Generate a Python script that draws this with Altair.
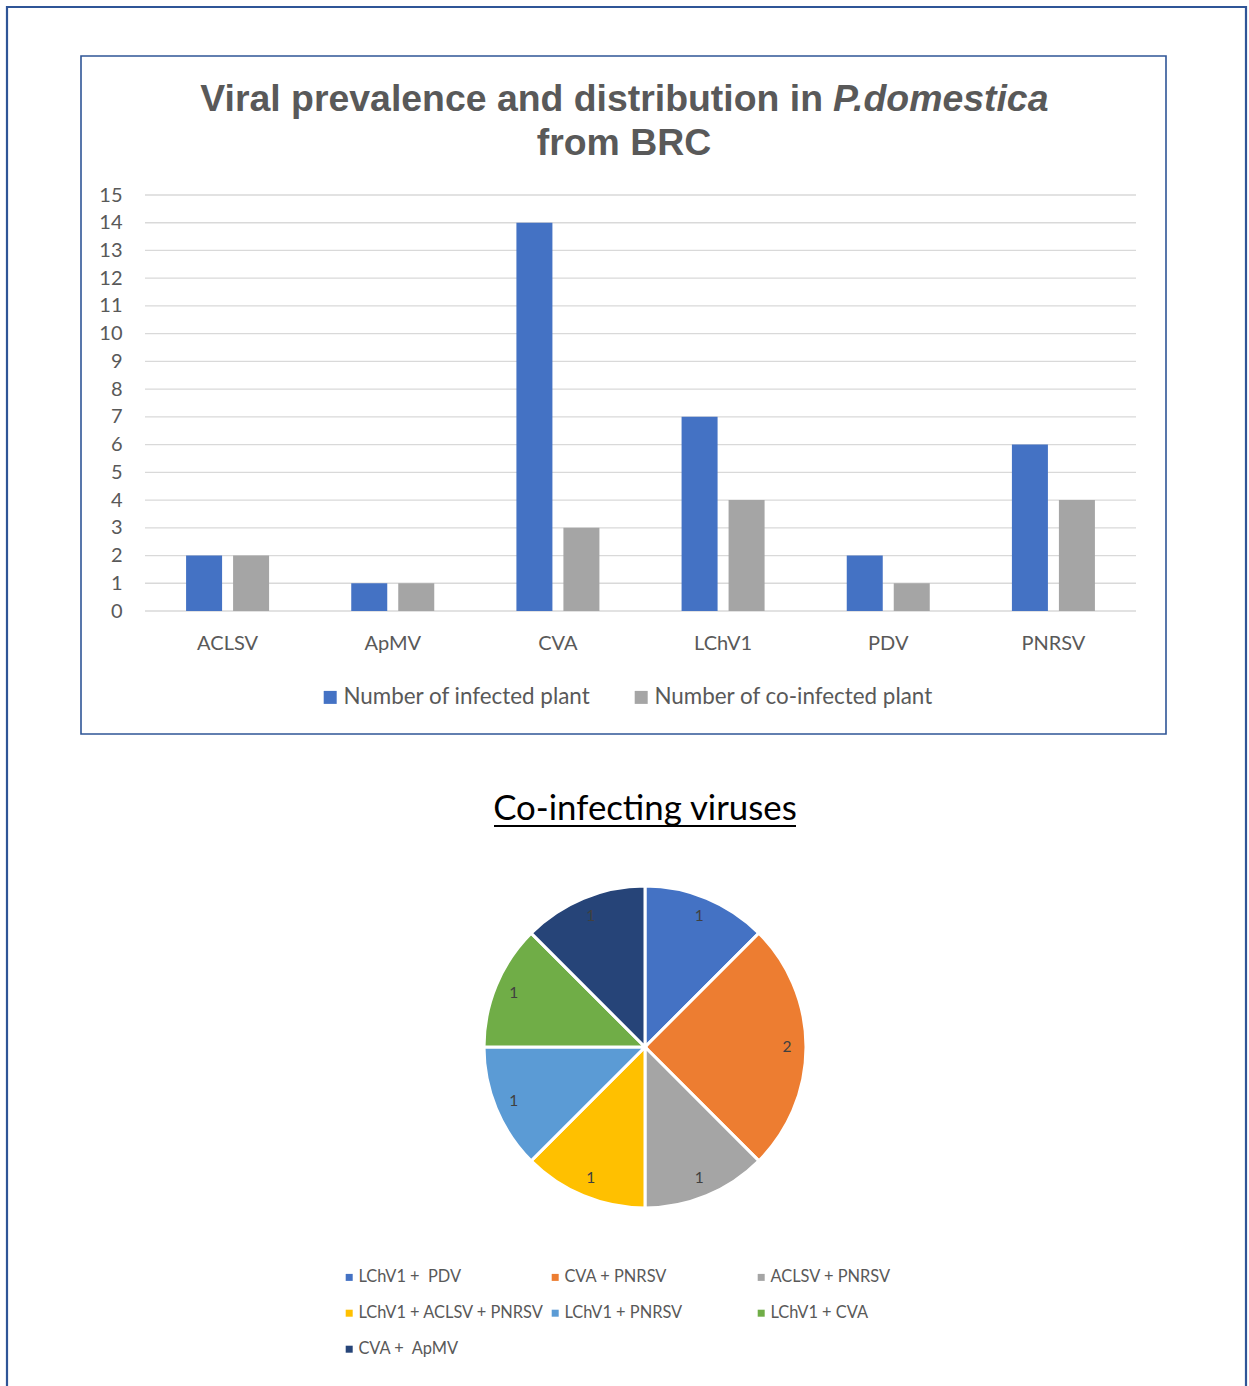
import altair as alt
import pandas as pd

# ---------------- data ----------------
viruses = ["ACLSV", "ApMV", "CVA", "LChV1", "PDV", "PNRSV"]
infected = [2, 1, 14, 7, 2, 6]
coinfected = [2, 1, 3, 4, 1, 4]
series_names = ["Number of infected plant", "Number of co-infected plant"]
series_colors = ["#4472C4", "#A5A5A5"]
y_ticks = list(range(16))

combos = ["LChV1 + \u00a0PDV", "CVA + PNRSV", "ACLSV + PNRSV",
          "LChV1 + ACLSV + PNRSV", "LChV1 + PNRSV", "LChV1 + CVA", "CVA + \u00a0ApMV"]
combo_counts = [1, 2, 1, 1, 1, 1, 1]
combo_colors = ["#4472C4", "#ED7D31", "#A5A5A5", "#FFC000", "#5B9BD5", "#70AD47", "#264478"]

bar_df = pd.DataFrame({
    "virus": viruses * 2,
    "series": [series_names[0]] * len(viruses) + [series_names[1]] * len(viruses),
    "count": infected + coinfected,
})
grid_df = pd.DataFrame({"tick": y_ticks})
pie_df = pd.DataFrame({"combo": combos, "count": combo_counts, "idx": list(range(len(combos)))})
one = pd.DataFrame({"k": [0]})

FONT = "Lato"
GREY = "#595959"
BORDER = "#2F5597"

yscale = alt.Scale(domain=[0, 15], range=[611, 195], nice=False, zero=True)
yaxis = alt.Axis(values=y_ticks, orient="left", offset=-122, grid=False, domain=False,
                 ticks=False, tickSize=0, labelPadding=0, labelFont=FONT, labelFontSize=20,
                 labelColor=GREY, title=None)

# ---------------- frames ----------------
outer = alt.Chart(one).mark_rect(fillOpacity=0, stroke=BORDER, strokeWidth=2.2).encode(
    x=alt.value(7), x2=alt.value(1246), y=alt.value(7), y2=alt.value(1420))
inner = alt.Chart(one).mark_rect(fillOpacity=0, stroke=BORDER, strokeWidth=1.6).encode(
    x=alt.value(81), x2=alt.value(1166), y=alt.value(56), y2=alt.value(734))

# ---------------- bar chart ----------------
grid = alt.Chart(grid_df).mark_rule(color="#D9D9D9", strokeWidth=1.3).encode(
    y=alt.Y("tick:Q", scale=yscale, axis=yaxis),
    x=alt.value(145), x2=alt.value(1136))

bars = alt.Chart(bar_df).mark_bar().encode(
    x=alt.X("virus:N", sort=viruses,
            scale=alt.Scale(range=[145, 1136], paddingInner=0, paddingOuter=0),
            axis=alt.Axis(orient="bottom", offset=-775, domain=False, ticks=False, tickSize=0,
                          labelPadding=22, labelAngle=0, labelFont=FONT, labelFontSize=20,
                          labelColor=GREY, title=None)),
    xOffset=alt.XOffset("series:N", sort=series_names,
                        scale=alt.Scale(paddingInner=0.234, paddingOuter=0.874)),
    y=alt.Y("count:Q", scale=yscale, axis=yaxis),
    color=alt.Color("series:N", sort=series_names,
                    scale=alt.Scale(domain=series_names, range=series_colors),
                    legend=alt.Legend(orient="none", legendX=319, legendY=686, direction="horizontal",
                                      title=None, symbolType="square", symbolSize=169,
                                      symbolStrokeWidth=0, labelFont=FONT, labelFontSize=22.4,
                                      labelColor=GREY, labelOffset=2, columnPadding=39,
                                      labelLimit=0)),
)

t1a = alt.Chart(one).mark_text(text="Viral prevalence and distribution in", font="Liberation Sans",
                               fontWeight="bold", fontSize=37.4, color=GREY, align="right",
                               baseline="alphabetic").encode(x=alt.value(823), y=alt.value(111))
t1b = alt.Chart(one).mark_text(text="P.domestica", font="Liberation Sans", fontWeight="bold",
                               fontStyle="italic", fontSize=37.4, color=GREY, align="left",
                               baseline="alphabetic").encode(x=alt.value(833), y=alt.value(111))
t2 = alt.Chart(one).mark_text(text="from BRC", font="Liberation Sans", fontWeight="bold",
                              fontSize=37.4, color=GREY, align="center",
                              baseline="alphabetic").encode(x=alt.value(624), y=alt.value(155))

# ---------------- pie chart ----------------
pie_title = alt.Chart(one).mark_text(text="Co-infecting viruses", font=FONT, fontSize=34.8,
                                     color="black", align="center", baseline="alphabetic").encode(
    x=alt.value(645), y=alt.value(820))
underline = alt.Chart(one).mark_rule(color="black", strokeWidth=2).encode(
    x=alt.value(494), x2=alt.value(796), y=alt.value(826))

arcs = alt.Chart(pie_df).mark_arc(outerRadius=161, stroke="white", strokeWidth=3).encode(
    theta=alt.Theta("count:Q", stack=True),
    order=alt.Order("idx:Q"),
    color=alt.Color("combo:N", sort=combos,
                    scale=alt.Scale(domain=combos, range=combo_colors),
                    legend=alt.Legend(orient="none", legendX=341, legendY=1269, direction="horizontal",
                                      columns=3, gridAlign="all", title=None, symbolType="square",
                                      symbolSize=49, symbolStrokeWidth=0, labelFont=FONT,
                                      labelFontSize=16.4, labelColor=GREY, labelOffset=1,
                                      rowPadding=19, columnPadding=2, labelLimit=0)),
    x=alt.value(645), y=alt.value(1047),
)
pie_labels = alt.Chart(pie_df).mark_text(radius=142, font=FONT, fontSize=15.5, color="#404040").encode(
    theta=alt.Theta("count:Q", stack=True),
    order=alt.Order("idx:Q"),
    text="count:Q",
    x=alt.value(645), y=alt.value(1047),
)

chart = alt.layer(
    outer, inner, grid, bars, t1a, t1b, t2, pie_title, underline, arcs, pie_labels
).resolve_scale(color="independent").properties(
    width=1249, height=1386, autosize=alt.AutoSizeParams(type="none"), padding=0,
    background="white"
).configure_view(stroke=None)

chart.save("out.html", embed_options={"renderer": "svg", "actions": False})
